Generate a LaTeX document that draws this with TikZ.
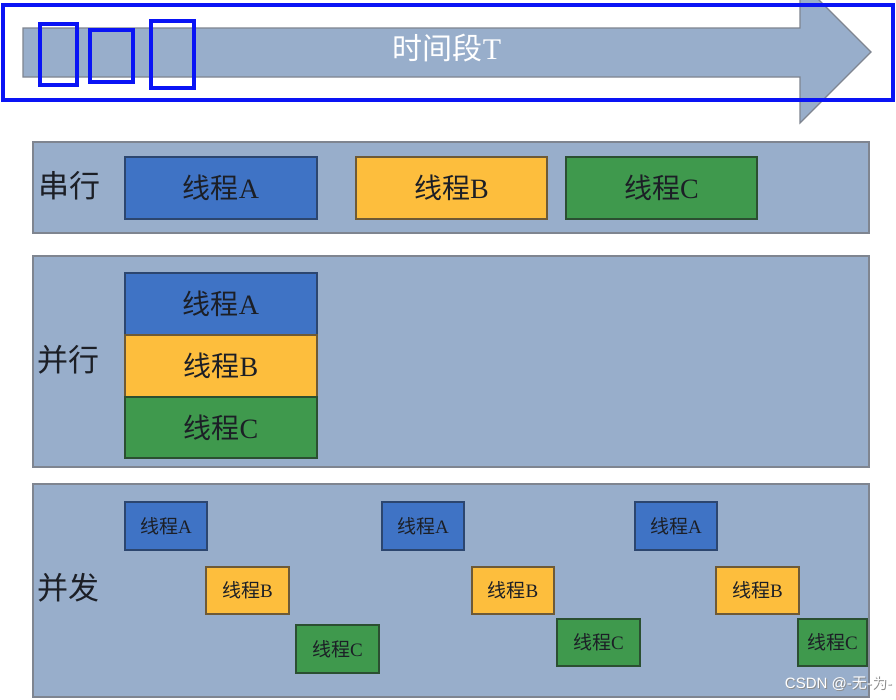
\documentclass[tikz,border=0pt]{standalone}
\usepackage{fontspec}
\setmainfont{Liberation Serif}
\newfontfamily\cjk{Noto Sans CJK SC}
\newfontfamily\wmfont{Liberation Sans}
\definecolor{panelfill}{HTML}{98AECB}
\definecolor{panelline}{HTML}{7F8590}
\definecolor{tblue}{HTML}{3F73C5}
\definecolor{tblueline}{HTML}{2C466F}
\definecolor{tyellow}{HTML}{FDBE3D}
\definecolor{tyellowline}{HTML}{6E5A36}
\definecolor{tgreen}{HTML}{3F994D}
\definecolor{tgreenline}{HTML}{2B4F31}
\definecolor{mark}{HTML}{0A14F5}
\definecolor{txt}{HTML}{1C1F26}
\tikzset{
  panel/.style={draw=panelline, fill=panelfill, line width=1.5pt, inner sep=0pt},
  tbase/.style={line width=1.3pt, inner sep=0pt, text=txt},
  tA/.style={tbase, draw=tblueline, fill=tblue},
  tB/.style={tbase, draw=tyellowline, fill=tyellow},
  tC/.style={tbase, draw=tgreenline, fill=tgreen},
  big/.style={font=\fontsize{28}{30}\selectfont},
  small/.style={font=\fontsize{19}{21}\selectfont},
  lbl/.style={inner sep=0pt, text=txt, font=\cjk\fontsize{31}{33}\selectfont},
  markbox/.style={draw=mark, line width=4pt, inner sep=0pt},
  wmstyle/.style={inner sep=0pt, anchor=east, font=\fontsize{15}{17}\selectfont},
}
\newcommand\tbox[7]{%
  \node[#2, minimum width={(#5-#3)*1pt}, minimum height={(#6-#4)*1pt}] (#1)
    at ({(#3+#5)/2},{(#4+#6)/2}) {{\cjk 线程}#7};}
\begin{document}
\begin{tikzpicture}[x=1pt,y=-1pt]
\useasboundingbox (0,0) rectangle (896,699);
\clip (0,0) rectangle (896,699);
\fill[white] (0,0) rectangle (896,699);
% time arrow
\draw[draw=panelline, fill=panelfill, line width=1.2pt]
  (23,28) -- (800,28) -- (800,-19) -- (871,52) -- (800,123) -- (800,77) -- (23,77) -- cycle;
\node[inner sep=0pt, text=white, font=\fontsize{30}{32}\selectfont] (tl) at (447,48) {{\cjk 时间段}T};
% panels
\node[panel, minimum width=836pt, minimum height=91pt] (p1) at (451,187.5) {};
\node[panel, minimum width=836pt, minimum height=211pt] (p2) at (451,361.5) {};
\node[panel, minimum width=836pt, minimum height=213pt] (p3) at (451,590.5) {};
\node[lbl, anchor=west] (l1) at (38,186) {串行};
\node[lbl, anchor=west] (l2) at (37,360) {并行};
\node[lbl, anchor=west] (l3) at (37,588) {并发};
% serial
\tbox{sA}{tA,big}{125}{157}{317}{219}{A}
\tbox{sB}{tB,big}{356}{157}{547}{219}{B}
\tbox{sC}{tC,big}{566}{157}{757}{219}{C}
% parallel
\tbox{pA}{tA,big}{125}{273}{317}{335}{A}
\tbox{pB}{tB,big}{125}{335}{317}{397}{B}
\tbox{pC}{tC,big}{125}{397}{317}{458}{C}
% concurrent
\tbox{cA1}{tA,small}{125}{502}{207}{550}{A}
\tbox{cB1}{tB,small}{206}{567}{289}{614}{B}
\tbox{cC1}{tC,small}{296}{625}{379}{673}{C}
\tbox{cA2}{tA,small}{382}{502}{464}{550}{A}
\tbox{cB2}{tB,small}{472}{567}{554}{614}{B}
\tbox{cC2}{tC,small}{557}{619}{640}{666}{C}
\tbox{cA3}{tA,small}{635}{502}{717}{550}{A}
\tbox{cB3}{tB,small}{716}{567}{799}{614}{B}
\tbox{cC3}{tC,small}{798}{619}{867}{666}{C}
% watermark (white text with grey shadow)
\node[wmstyle, text=black!45] (wms) at (893,684) {\wmfont CSDN @-{\cjk 无}-{\cjk 为}-};
\node[wmstyle, text=white] (wm) at (892,683) {\wmfont CSDN @-{\cjk 无}-{\cjk 为}-};
% annotation rectangles
\node[markbox, minimum width=890pt, minimum height=95pt] (m0) at (448,52.5) {};
\node[markbox, minimum width=37pt, minimum height=61pt] (m1) at (58.5,54) {};
\node[markbox, minimum width=43pt, minimum height=52pt] (m2) at (111.5,56) {};
\node[markbox, minimum width=43pt, minimum height=67pt] (m3) at (172.5,54.5) {};
\end{tikzpicture}
\end{document}
